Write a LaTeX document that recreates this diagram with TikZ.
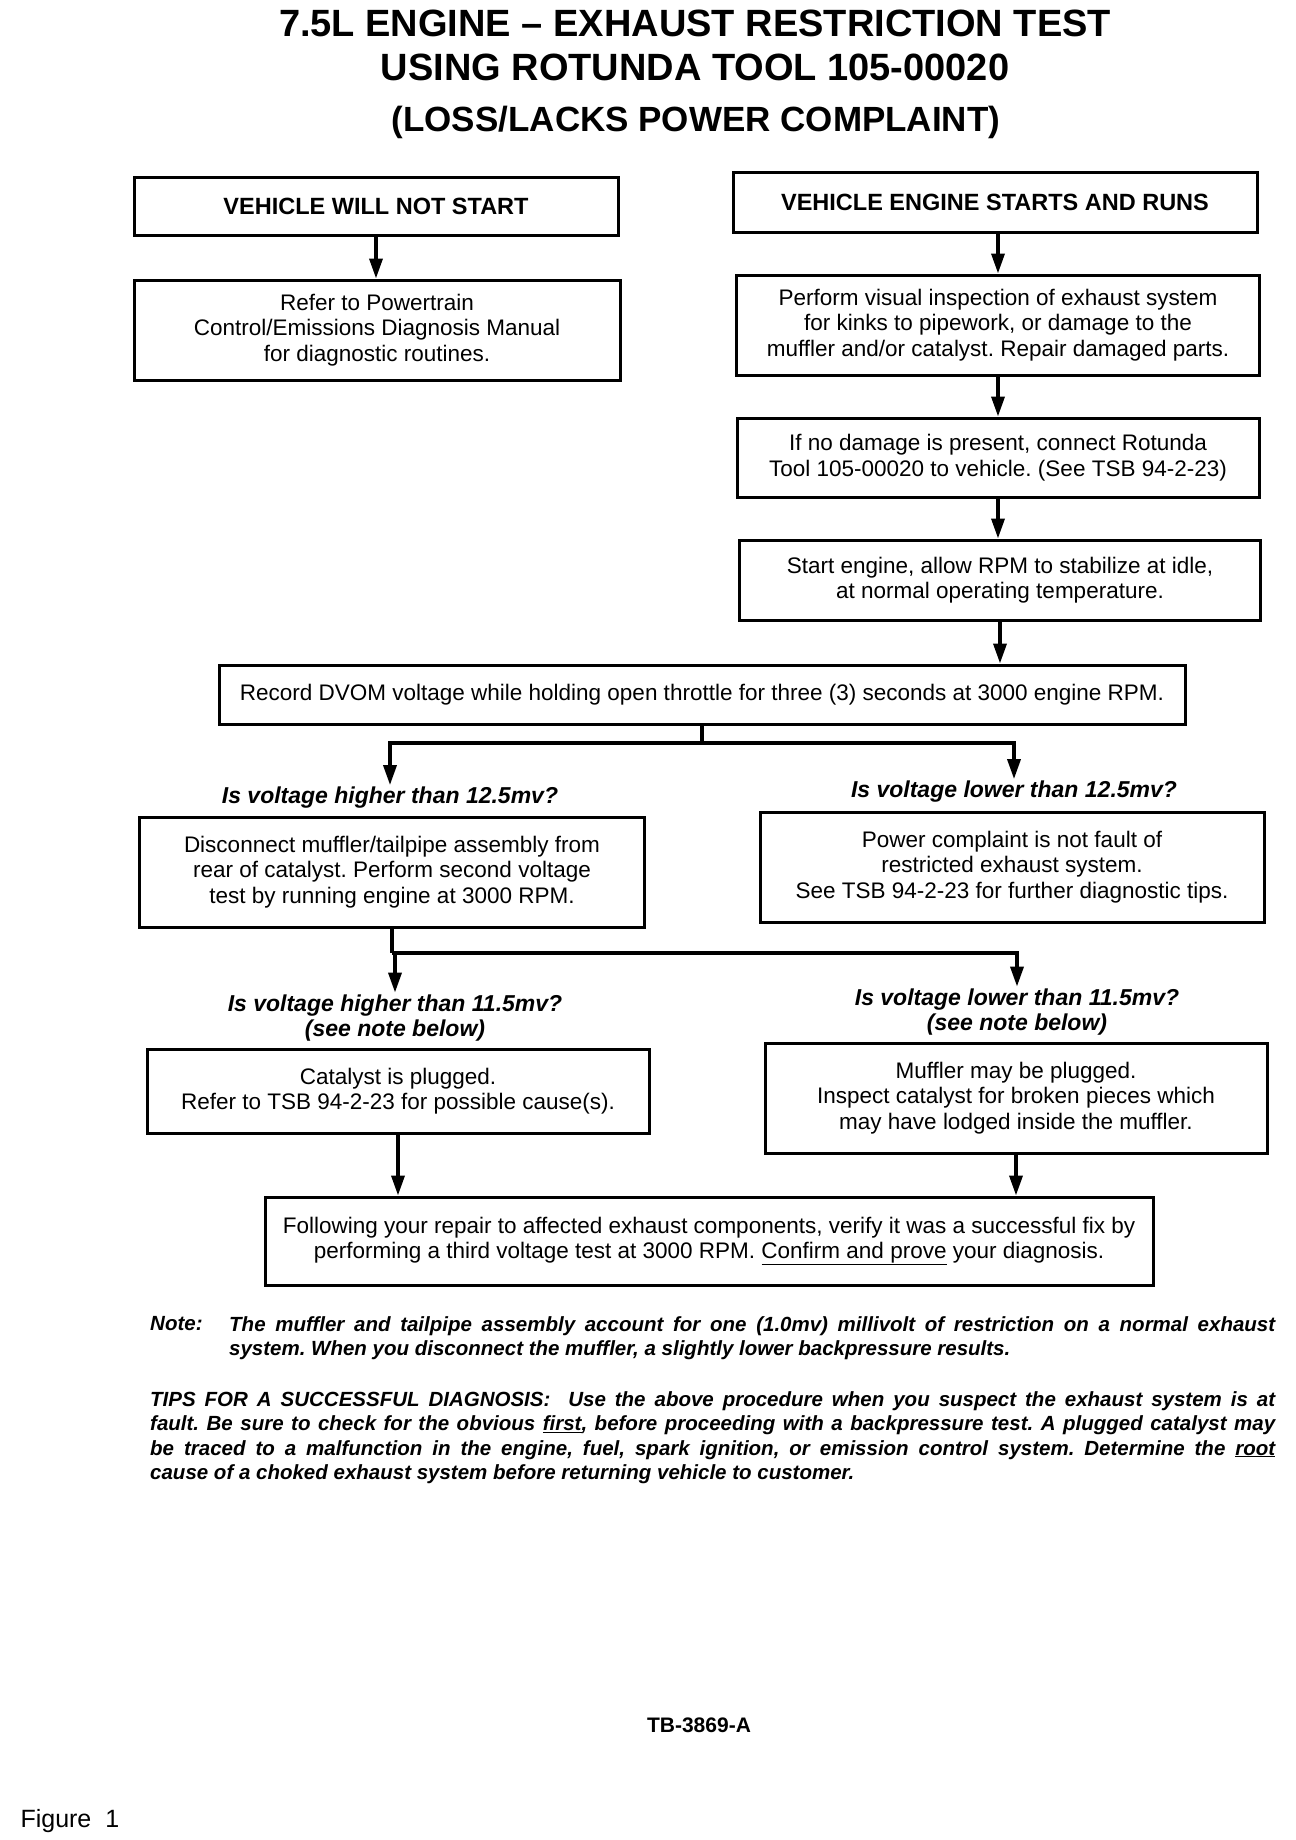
\documentclass[tikz,border=0pt]{standalone}
\usepackage{fontspec}
\setmainfont{Liberation Sans}
\usetikzlibrary{arrows.meta,positioning}
\frenchspacing

\begin{document}
\begin{tikzpicture}[x=1pt, y=-1pt,
    box/.style 2 args={draw, line width=3pt, minimum width=#1, minimum height=#2, align=center, inner sep=0pt, font=\fontsize{22.5}{25.5}\selectfont},
    head/.style={font=\bfseries\fontsize{23.5}{26}\selectfont},
    quest/.style={align=center, inner sep=2pt, font=\bfseries\itshape\fontsize{23}{25}\selectfont},
    conn/.style={line width=3.5pt},
    arr/.style={line width=3.5pt, -{Triangle[length=20pt, width=13pt]}},
    ttl/.style={font=\bfseries\fontsize{38}{40}\selectfont},
    fine/.style={font=\bfseries\itshape\fontsize{20.5}{24.5}\selectfont, inner sep=0pt}
]
    \fill[white] (0, 0) rectangle (1296, 1840);
    \useasboundingbox (0, 0) rectangle (1296, 1840);

    \node[ttl] (title1) at (695, 23) {7.5L ENGINE – EXHAUST RESTRICTION TEST};
    \node[ttl] (title2) at (695, 67) {USING ROTUNDA TOOL 105-00020};
    \node[ttl, font=\bfseries\fontsize{35}{38}\selectfont] (title3) at (696, 122) {(LOSS/LACKS POWER COMPLAINT)};

    \node[box={484pt}{58pt}, head] (nostart) at (376, 206) {VEHICLE WILL NOT START};
    \node[box={524pt}{60pt}, head] (runs) at (995, 202) {VEHICLE ENGINE STARTS AND RUNS};
    \node[box={486pt}{100pt}] (refer) at (377, 330) {Refer to Powertrain\\Control/Emissions Diagnosis Manual\\for diagnostic routines.};
    \node[box={523pt}{100pt}] (inspect) at (998, 325) {Perform visual inspection of exhaust system\\for kinks to pipework, or damage to the\\muffler and/or catalyst. Repair damaged parts.};
    \node[box={522pt}{79pt}] (connect) at (998, 457.5) {If no damage is present, connect Rotunda\\Tool 105-00020 to vehicle. (See TSB 94-2-23)};
    \node[box={521pt}{80pt}] (start) at (1000, 580) {Start engine, allow RPM to stabilize at idle,\\at normal operating temperature.};
    \node[box={966pt}{59pt}] (record) at (702, 694.5) {Record DVOM voltage while holding open throttle for three (3) seconds at 3000 engine RPM.};
    \node[quest] (hi1) at (390, 798) {Is voltage higher than 12.5mv?};
    \node[quest] (lo1) at (1014, 792) {Is voltage lower than 12.5mv?};
    \node[box={505pt}{110pt}] (disconnect) at (392, 872) {Disconnect muffler/tailpipe assembly from\\rear of catalyst. Perform second voltage\\test by running engine at 3000 RPM.};
    \node[box={504pt}{110pt}] (power) at (1012, 867) {Power complaint is not fault of\\restricted exhaust system.\\See TSB 94-2-23 for further diagnostic tips.};
    \node[quest] (hi2) at (395, 1018) {Is voltage higher than 11.5mv?\\(see note below)};
    \node[quest] (lo2) at (1017, 1012) {Is voltage lower than 11.5mv?\\(see note below)};
    \node[box={502pt}{84pt}] (catalyst) at (398, 1091) {Catalyst is plugged.\\Refer to TSB 94-2-23 for possible cause(s).};
    \node[box={502pt}{110pt}] (muffler) at (1016, 1098) {Muffler may be plugged.\\Inspect catalyst for broken pieces which\\may have lodged inside the muffler.};
    \node[box={888pt}{88pt}] (follow) at (709, 1241) {Following your repair to affected exhaust components, verify it was a successful fix by\\performing a third voltage test at 3000 RPM. \underline{Confirm and prove} your diagnosis.};

    \node[fine, anchor=north west] (notelbl) at (150, 1316) {Note:};
    \node[fine, anchor=north west, text width=1046pt, align=justify] (notetxt) at (229, 1316) {The muffler and tailpipe assembly account for one (1.0mv) millivolt of restriction on a normal exhaust\linebreak system. When you disconnect the muffler, a slightly lower backpressure results.};
    \node[fine, anchor=north west, text width=1125pt, align=justify] (tips) at (150, 1391) {TIPS FOR A SUCCESSFUL DIAGNOSIS:\ \ Use the above procedure when you suspect the exhaust system is at\linebreak fault. Be sure to check for the obvious \underline{first}, before proceeding with a backpressure test. A plugged catalyst may\linebreak be traced to a malfunction in the engine, fuel, spark ignition, or emission control system. Determine the \underline{root}\linebreak cause of a choked exhaust system before returning vehicle to customer.};

    \node[font=\bfseries\fontsize{21}{24}\selectfont] (tbnum) at (699, 1725) {TB-3869-A};
    \node[anchor=west, font=\fontsize{25}{28}\selectfont] (figlbl) at (17, 1821) {Figure\ \ 1};

    \draw[arr] (nostart.south) -- (nostart.south |- refer.north);
    \draw[arr] (inspect.north |- runs.south) -- (inspect.north);
    \draw[arr] (inspect.south) -- (inspect.south |- connect.north);
    \draw[arr] (connect.south) -- (connect.south |- start.north);
    \draw[arr] (start.south) -- (start.south |- record.north);
    \coordinate (fork1) at (702, 743);
    \draw[conn] (record.south) -- (fork1);
    \draw[arr] (fork1) -| (hi1.north);
    \draw[arr] (fork1) -| (lo1.north);
    \coordinate (fork2) at (disconnect.south |- 0,953);
    \draw[conn] (disconnect.south) -- (fork2);
    \draw[arr] (fork2) -| (hi2.north);
    \draw[arr] (fork2) -| (lo2.north);
    \draw[arr] (catalyst.south) -- (catalyst.south |- follow.north);
    \draw[arr] (muffler.south) -- (muffler.south |- follow.north);
\end{tikzpicture}
\end{document}
